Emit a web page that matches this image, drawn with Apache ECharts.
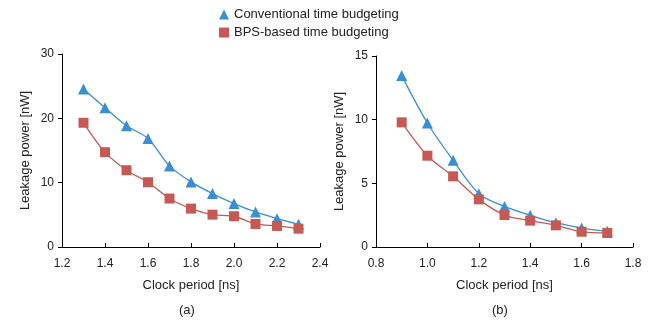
<!DOCTYPE html>
<html><head><meta charset="utf-8">
<script src="https://cdn.jsdelivr.net/npm/echarts@6/dist/echarts.min.js"></script>
<style>html,body{margin:0;padding:0;background:#fff}#c{width:662px;height:323px}</style>
</head><body><div id="c"></div>
<script>
const periodsA = [1.3,1.4,1.5,1.6,1.7,1.8,1.9,2.0,2.1,2.2,2.3];
const convA = [24.55,21.64,18.84,16.87,12.61,10.12,8.30,6.75,5.45,4.41,3.53];
const bpsA = [19.31,14.74,11.94,10.07,7.53,5.97,5.03,4.78,3.58,3.27,2.85];
const periodsB = [0.9,1.0,1.1,1.2,1.3,1.4,1.5,1.6,1.7];
const convB = [13.46,9.74,6.81,4.19,3.19,2.49,1.91,1.49,1.23];
const bpsB = [9.79,7.17,5.55,3.74,2.51,2.07,1.70,1.20,1.10];
const seriesNames = ['Conventional time budgeting','BPS-based time budgeting'];
const panelLabels = ['(a)','(b)'];
const xName = 'Clock period [ns]';
const yName = 'Leakage power [nW]';

const BLUE = '#3a8fd3', RED = '#c55a55';
const font = 'Liberation Sans, Arial, sans-serif';
const pairs = (xs, ys) => xs.map((x,i)=>[x, ys[i]]);

function xAxis(idx, min, max){
  return {gridIndex: idx, type:'value', min, max, interval:0.2,
    name: xName, nameLocation:'middle', nameGap: 32,
    nameTextStyle:{fontFamily:font, fontSize:13, color:'#222'},
    axisLine:{lineStyle:{color:'#000', width:1}},
    axisTick:{show:true, inside:true, length:4, lineStyle:{color:'#000'}},
    splitLine:{show:false},
    axisLabel:{fontFamily:font, fontSize:12, color:'#222', margin:11, formatter:v=>v.toFixed(1)}};
}
function yAxis(idx, max, interval){
  return {gridIndex: idx, type:'value', min:0, max, interval,
    name: yName, nameLocation:'middle', nameGap: 30,
    nameTextStyle:{fontFamily:font, fontSize:13, color:'#222'},
    axisLine:{show:true, lineStyle:{color:'#000', width:1}},
    axisTick:{show:true, length:4, lineStyle:{color:'#000'}},
    splitLine:{show:false},
    axisLabel:{fontFamily:font, fontSize:12, color:'#222', margin:8}};
}
function ser(name, idx, data, color, symbol){
  return {name, type:'line', xAxisIndex:idx, yAxisIndex:idx, data, smooth:0.3,
    symbol, symbolSize: symbol==='triangle'?11:10, showSymbol:true,
    lineStyle:{color, width:1.3}, itemStyle:{color}, animation:false};
}

const chart = echarts.init(document.getElementById('c'), null, {renderer:'canvas'});
chart.setOption({
  animation:false,
  legend:{orient:'vertical', left:214, top:3, itemGap:5, itemWidth:10, itemHeight:10,
    textStyle:{fontFamily:font, fontSize:13, color:'#222'},
    data:[{name:seriesNames[0], icon:'triangle'},{name:seriesNames[1], icon:'rect'}]},
  grid:[{left:62, right:342, top:54, bottom:76},{left:376, right:29, top:56, bottom:76}],
  xAxis:[xAxis(0,1.2,2.4), xAxis(1,0.8,1.8)],
  yAxis:[yAxis(0,30,10), yAxis(1,15,5)],
  graphic:[
    {type:'text', left:179, top:304, style:{text:panelLabels[0], font:'13px '+font, fill:'#222'}},
    {type:'text', left:492, top:304, style:{text:panelLabels[1], font:'13px '+font, fill:'#222'}}
  ],
  series:[
    ser(seriesNames[0],0,pairs(periodsA,convA),BLUE,'triangle'),
    ser(seriesNames[1],0,pairs(periodsA,bpsA),RED,'rect'),
    ser(seriesNames[0],1,pairs(periodsB,convB),BLUE,'triangle'),
    ser(seriesNames[1],1,pairs(periodsB,bpsB),RED,'rect')
  ]
});
</script></body></html>
